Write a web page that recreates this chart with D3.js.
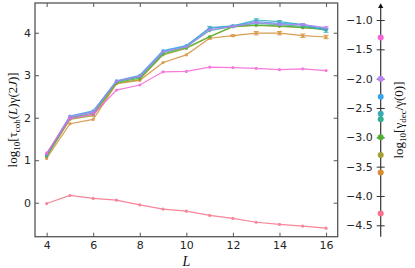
<!DOCTYPE html>
<html>
<head>
<meta charset="utf-8">
<script src="https://cdn.jsdelivr.net/npm/d3@7"></script>
<style>
  body { margin: 0; background: #fff; }
  svg { display: block; }
  .tick text { font-family: "DejaVu Sans", sans-serif; font-size: 11px; fill: #262626; }
  .math { font-family: "Liberation Serif", "DejaVu Serif", serif; fill: #111; }
</style>
</head>
<body>
<svg id="chart" width="415" height="268"></svg>
<script>
const sizes = [4, 5, 6, 7, 8, 9, 10, 11, 12, 13, 14, 15, 16];

// log10 of decoherence rate, one per curve (the colour bar on the right)
const gammaDec = [-4.30, -3.60, -3.30, -3.00, -2.69, -2.60, -2.31, -2.00, -1.30];
const colors = ['#f77189', '#d58c32', '#a4a031', '#50b131', '#34ae91', '#37abb5', '#3ba3ec', '#bb83f4', '#f564d4'];

const tauPink    = [-0.02, 0.17, 0.10, 0.06, -0.05, -0.15, -0.20, -0.30, -0.37, -0.46, -0.51, -0.55, -0.60];
const tauOrange  = [1.04, 1.86, 1.96, 2.80, 2.88, 3.30, 3.48, 3.87, 3.93, 3.99, 3.99, 3.93, 3.90];
const tauOlive   = [1.08, 1.96, 2.05, 2.81, 2.90, 3.48, 3.63, 3.90, 4.14, 4.17, 4.15, 4.12, 4.08];
const tauGreen   = [1.10, 1.98, 2.08, 2.83, 2.93, 3.50, 3.65, 3.91, 4.15, 4.18, 4.16, 4.12, 4.08];
const tauTealGrn = [1.12, 2.00, 2.11, 2.85, 2.96, 3.53, 3.67, 4.05, 4.15, 4.22, 4.19, 4.15, 4.08];
const tauTeal    = [1.13, 2.02, 2.14, 2.86, 2.98, 3.56, 3.69, 4.12, 4.16, 4.30, 4.26, 4.19, 4.05];
const tauBlue    = [1.14, 2.04, 2.16, 2.87, 3.00, 3.58, 3.70, 4.10, 4.16, 4.26, 4.22, 4.19, 4.10];
const tauViolet  = [1.15, 2.03, 2.13, 2.86, 2.98, 3.55, 3.67, 4.07, 4.15, 4.24, 4.20, 4.19, 4.12];
const tauMagenta = [1.17, 1.98, 2.08, 2.65, 2.77, 3.08, 3.09, 3.19, 3.18, 3.16, 3.13, 3.15, 3.11];

const errOrange = [0, 0, 0, 0, 0, 0, 0, 0.02, 0.02, 0.04, 0.04, 0.04, 0.04];
const errTeal   = [0, 0, 0, 0, 0, 0, 0, 0.03, 0.02, 0.03, 0.03, 0.02, 0.04];
const errViolet = [0, 0, 0, 0, 0, 0, 0, 0.01, 0.01, 0.02, 0.02, 0.02, 0.02];
const noErr     = sizes.map(() => 0);

const curves = [tauPink, tauOrange, tauOlive, tauGreen, tauTealGrn, tauTeal, tauBlue, tauViolet, tauMagenta];
const errors = [noErr, errOrange, noErr, noErr, noErr, errTeal, noErr, errViolet, noErr];

const xTicks = [4, 6, 8, 10, 12, 14, 16];
const yTicks = [0, 1, 2, 3, 4];
const cTicks = [-1.0, -1.5, -2.0, -2.5, -3.0, -3.5, -4.0, -4.5];

const svg = d3.select('#chart');
const frame = '#555';

const plot = { left: 35, right: 337.7, top: 3, bottom: 236.7 };

const x = d3.scaleLinear().domain([3.5, 16.5]).range([plot.left, plot.right]);
const y = d3.scaleLinear().domain([-0.8, 4.7]).range([plot.bottom, plot.top]);

// frame
svg.append('rect')
  .attr('x', plot.left).attr('y', plot.top)
  .attr('width', plot.right - plot.left).attr('height', plot.bottom - plot.top)
  .attr('fill', 'none').attr('stroke', frame).attr('stroke-width', 1.3);

const styleAxis = g => {
  g.select('.domain').remove();
  g.selectAll('.tick line').attr('stroke', frame).attr('stroke-width', 1);
};

// inward ticks on all four sides
svg.append('g').attr('transform', `translate(0,${plot.bottom})`)
  .call(d3.axisBottom(x).tickValues(xTicks).tickSizeInner(-4).tickPadding(5).tickFormat(d3.format('d')))
  .call(styleAxis);
svg.append('g').attr('transform', `translate(0,${plot.top})`)
  .call(d3.axisTop(x).tickValues(xTicks).tickSizeInner(-4).tickFormat(''))
  .call(styleAxis);
svg.append('g').attr('transform', `translate(${plot.left},0)`)
  .call(d3.axisLeft(y).tickValues(yTicks).tickSizeInner(-4).tickPadding(4).tickFormat(d3.format('d')))
  .call(styleAxis);
svg.append('g').attr('transform', `translate(${plot.right},0)`)
  .call(d3.axisRight(y).tickValues(yTicks).tickSizeInner(-4).tickFormat(''))
  .call(styleAxis);

// curves
const line = d3.line().x((d, i) => x(sizes[i])).y(d => y(d));

curves.forEach((vals, k) => {
  const g = svg.append('g').attr('opacity', 0.85);
  g.append('path').datum(vals)
    .attr('d', line).attr('fill', 'none')
    .attr('stroke', colors[k]).attr('stroke-width', 1.2);
  errors[k].forEach((e, i) => {
    if (!e) return;
    const cx = x(sizes[i]);
    g.append('line').attr('x1', cx).attr('x2', cx)
      .attr('y1', y(vals[i] - e)).attr('y2', y(vals[i] + e))
      .attr('stroke', colors[k]).attr('stroke-width', 1.2);
    [vals[i] - e, vals[i] + e].forEach(v => {
      g.append('line').attr('x1', cx - 2.5).attr('x2', cx + 2.5)
        .attr('y1', y(v)).attr('y2', y(v))
        .attr('stroke', colors[k]).attr('stroke-width', 1);
    });
  });
  g.selectAll('circle').data(vals).join('circle')
    .attr('cx', (d, i) => x(sizes[i])).attr('cy', d => y(d))
    .attr('r', 1.6).attr('fill', colors[k]);
});

// axis labels
const yl = svg.append('text').attr('class', 'math')
  .attr('transform', `translate(17,${(plot.top + plot.bottom) / 2}) rotate(-90)`)
  .attr('text-anchor', 'middle').attr('font-size', 13);
yl.append('tspan').text('log');
yl.append('tspan').attr('font-size', 9).attr('dy', 3).text('10');
yl.append('tspan').attr('dy', -3).text('[τ');
yl.append('tspan').attr('font-size', 9).attr('dy', 3).text('coh');
yl.append('tspan').attr('dy', -3).text('(');
yl.append('tspan').attr('font-style', 'italic').text('L');
yl.append('tspan').text(')γ(2');
yl.append('tspan').attr('font-style', 'italic').text('J');
yl.append('tspan').text(')]');

svg.append('text').attr('class', 'math')
  .attr('x', x(10)).attr('y', 266)
  .attr('text-anchor', 'middle').attr('font-size', 14).attr('font-style', 'italic')
  .text('L');

// colour bar axis with the decoherence rates
const cx0 = 380.7;
const c = d3.scaleLinear().domain([-1.0, -4.5]).range([20, 225.3]);

svg.append('line').attr('x1', cx0).attr('x2', cx0)
  .attr('y1', 6).attr('y2', plot.bottom)
  .attr('stroke', '#333').attr('stroke-width', 1.2);
svg.append('path')
  .attr('d', `M${cx0},3.3 L${cx0 - 2.6},8 L${cx0 + 2.6},8 Z`)
  .attr('fill', '#111');

const cAxis = svg.append('g').attr('transform', `translate(${cx0},0)`)
  .call(d3.axisLeft(c).tickValues(cTicks).tickSize(4).tickPadding(4)
    .tickFormat(d => d3.format('.1f')(d)));
cAxis.select('.domain').remove();
cAxis.selectAll('.tick line').attr('x1', 4).attr('x2', -4).attr('stroke', '#333');

svg.append('g').selectAll('circle').data(gammaDec).join('circle')
  .attr('cx', cx0).attr('cy', d => c(d)).attr('r', 3)
  .attr('fill', (d, i) => colors[i]);

const cl = svg.append('text').attr('class', 'math')
  .attr('transform', `translate(403,120) rotate(-90)`)
  .attr('text-anchor', 'middle').attr('font-size', 13);
cl.append('tspan').text('log');
cl.append('tspan').attr('font-size', 9).attr('dy', 3).text('10');
cl.append('tspan').attr('dy', -3).text('[γ');
cl.append('tspan').attr('font-size', 9).attr('dy', 3).text('dec');
cl.append('tspan').attr('dy', -3).text('/γ(0)]');
</script>
</body>
</html>
